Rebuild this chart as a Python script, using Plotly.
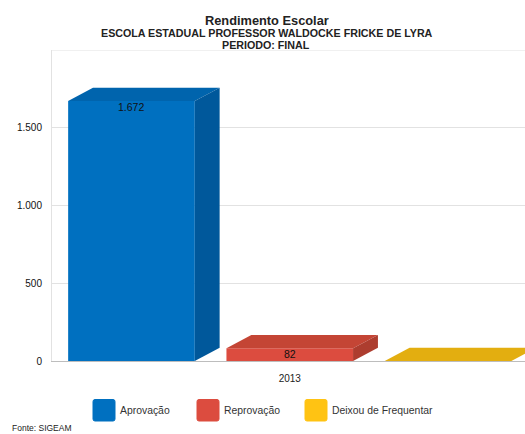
import plotly.graph_objects as go

categories = ["Aprovação", "Reprovação", "Deixou de Frequentar"]
year_label = "2013"
values = [1672, 82, 0]
value_labels = ["1.672", "82", ""]
y_ticks = [0, 500, 1000, 1500]
front = ["#0070C0", "#DC4C3F", "#FFC313"]
top = ["#0064AD", "#C44535", "#E3AE10"]
side = ["#00589B", "#AD3D2F", "#C79A0E"]
legend_colors = ["#0070C0", "#DC4C3F", "#FFC313"]

W, H = 525, 434
PL, PR, PT, PB = 52, 525, 50, 361
positions = [0, 1, 2]
bar_w = 0.8
dx = 0.157
dy = 86
FONT = "Liberation Sans"

fig = go.Figure()
for i, name in enumerate(categories):
    x0, x1, v = positions[i] - bar_w / 2, positions[i] + bar_w / 2, values[i]
    fig.add_trace(go.Bar(x=[positions[i]], y=[v], width=bar_w, name=name,
                         marker=dict(color=front[i], line=dict(width=0)), showlegend=False))
    fig.add_trace(go.Scatter(x=[x0, x0 + dx, x1 + dx, x1, x0], y=[v, v + dy, v + dy, v, v],
                             fill="toself", fillcolor=top[i], mode="none",
                             showlegend=False, hoverinfo="skip"))
    fig.add_trace(go.Scatter(x=[x1, x1 + dx, x1 + dx, x1, x1], y=[0, dy, v + dy, v, 0],
                             fill="toself", fillcolor=side[i], mode="none",
                             showlegend=False, hoverinfo="skip"))

annotations = []
for i, t in enumerate(value_labels):
    if t:
        annotations.append(dict(x=positions[i], y=values[i], xref="x", yref="y", text=t,
                                showarrow=False, yanchor="top", yshift=2,
                                font=dict(family=FONT, size=10.5, color="#111")))

def xp(x):
    return (x - PL) / (PR - PL)

def yp(y):
    return (PB - y) / (PB - PT)

def px(x, y, text, size, bold=False, anchor="center", color="#222"):
    t = f"<b>{text}</b>" if bold else text
    annotations.append(dict(x=xp(x), y=yp(y), xref="paper", yref="paper", text=t,
                            showarrow=False, xanchor=anchor, yanchor="middle",
                            font=dict(family=FONT, size=size, color=color)))

def rounded(x0, y0, x1, y1, r=2):
    a, b, c, d = xp(x0), xp(x1), yp(y0), yp(y1)
    rx, ry = r / (PR - PL), r / (PB - PT)
    return (f"M {a+rx} {c} L {b-rx} {c} Q {b} {c} {b} {c-ry} L {b} {d+ry} Q {b} {d} {b-rx} {d} "
            f"L {a+rx} {d} Q {a} {d} {a} {d+ry} L {a} {c-ry} Q {a} {c} {a+rx} {c} Z")

fig.update_layout(
    width=W, height=H,
    margin=dict(l=PL, r=W - PR, t=PT, b=H - PB, pad=0),
    autosize=False, paper_bgcolor="white", plot_bgcolor="white",
    separators=",.", barmode="overlay", showlegend=False,
    font=dict(family=FONT, size=10, color="#222"),
    xaxis=dict(range=[-0.502, 2.486], tickmode="array", tickvals=[1], ticktext=[year_label],
               showgrid=False, zeroline=False, showline=True, linecolor="#BDBDBD", linewidth=1,
               ticks="outside", ticklen=8, tickcolor="rgba(0,0,0,0)",
               tickfont=dict(family=FONT, size=10, color="#222"), fixedrange=True),
    yaxis=dict(range=[0, 2000], tickmode="array", tickvals=y_ticks, tickformat=",d",
               showgrid=True, gridcolor="#E2E2E2", gridwidth=1, zeroline=False,
               showline=True, linecolor="#E2E2E2", linewidth=1,
               ticks="outside", ticklen=7, tickcolor="rgba(0,0,0,0)",
               tickfont=dict(family=FONT, size=10, color="#111"), fixedrange=True),
)

shapes = [dict(type="line", xref="paper", yref="y", x0=0, x1=1, y0=2000, y1=2000,
               line=dict(color="#E2E2E2", width=1), layer="below")]

px(266.5, 20.5, "Rendimento Escolar", 12.8, bold=True)
px(266.5, 33.5, "ESCOLA ESTADUAL PROFESSOR WALDOCKE FRICKE DE LYRA", 10.7, bold=True)
px(265.5, 45, "PERIODO: FINAL", 10.7, bold=True)

swatch_x = [93, 197, 305]
label_x = [120, 224, 332]
for i, name in enumerate(categories):
    shapes.append(dict(type="path", xref="paper", yref="paper",
                       path=rounded(swatch_x[i], 399.5, swatch_x[i] + 22, 421),
                       fillcolor=legend_colors[i], line=dict(color=legend_colors[i], width=1)))
    px(label_x[i] - 2, 410, name, 10.4, anchor="left", color="#333")
px(10, 427.5, "Fonte: SIGEAM", 8.5, anchor="left", color="#222")

fig.update_layout(annotations=annotations, shapes=shapes)
fig.write_html("out.html", config=dict(displayModeBar=False),
               post_script="document.body.style.margin='0';Plotly.Plots.resize(document.querySelector('.plotly-graph-div'));")
